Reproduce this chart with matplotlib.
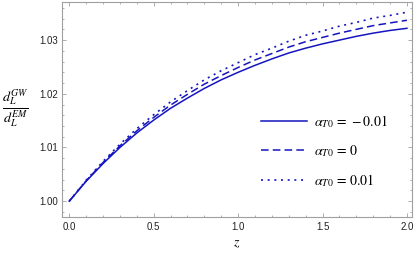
import matplotlib
matplotlib.use('Agg')
import matplotlib.pyplot as plt
import matplotlib.ticker as ticker

plt.rcParams['font.family'] = ['Liberation Sans', 'DejaVu Sans']
plt.rcParams['mathtext.fontset'] = 'stix'

# values
z = [0.0, 0.1, 0.2, 0.3, 0.4, 0.5, 0.6, 0.7, 0.8, 0.9, 1.0,
     1.1, 1.2, 1.3, 1.4, 1.5, 1.6, 1.7, 1.8, 1.9, 2.0]
ratio_m001 = [1.0000, 1.0037, 1.0070, 1.0100, 1.0127, 1.0151, 1.0173, 1.0192, 1.0210, 1.0226, 1.0240,
              1.0253, 1.0265, 1.0276, 1.0285, 1.0293, 1.0300, 1.0307, 1.0313, 1.0318, 1.0322]
ratio_0 = [1.0000, 1.0038, 1.0072, 1.0103, 1.0131, 1.0156, 1.0179, 1.0199, 1.0218, 1.0234, 1.0249,
           1.0263, 1.0275, 1.0287, 1.0297, 1.0305, 1.0313, 1.0320, 1.0327, 1.0332, 1.0337]
ratio_p001 = [1.0000, 1.0039, 1.0074, 1.0106, 1.0135, 1.0161, 1.0185, 1.0206, 1.0226, 1.0243, 1.0258,
              1.0273, 1.0285, 1.0298, 1.0309, 1.0317, 1.0326, 1.0333, 1.0341, 1.0346, 1.0352]
labels = [r'$\alpha_{T0}\,=\,-0.01$', r'$\alpha_{T0}\,=\,0$', r'$\alpha_{T0}\,=\,0.01$']

blue = '#1515c0'
frame = '#a0a0a0'

fig = plt.figure(figsize=(4.15, 2.60), dpi=100)
ax = fig.add_axes([62/415, 43/260, 350/415, 215/260])

ax.plot(z, ratio_m001, color=blue, lw=1.1, linestyle='-', label=labels[0])
ax.plot(z, ratio_0, color=blue, lw=1.1, linestyle=(0, (5, 2.7)), label=labels[1])
ax.plot(z, ratio_p001, color=blue, lw=1.2, linestyle=(0, (1.2, 2.8)), label=labels[2])

ax.set_xlim(-0.043, 2.03)
ax.set_ylim(0.99705, 1.0371)

ax.xaxis.set_major_locator(ticker.MultipleLocator(0.5))
ax.xaxis.set_minor_locator(ticker.MultipleLocator(0.1))
ax.yaxis.set_major_locator(ticker.MultipleLocator(0.01))
ax.yaxis.set_minor_locator(ticker.MultipleLocator(0.002))
ax.xaxis.set_major_formatter(ticker.FormatStrFormatter('%.1f'))
ax.yaxis.set_major_formatter(ticker.FormatStrFormatter('%.2f'))

for s in ax.spines.values():
    s.set_color(frame)
    s.set_linewidth(0.8)
ax.tick_params(which='both', direction='in', top=True, right=True, color=frame, width=0.6,
               labelsize=7, labelcolor='#222222')
ax.tick_params(which='major', length=3)
ax.tick_params(which='minor', length=1.6)
ax.tick_params(axis='x', pad=3.6)
ax.tick_params(axis='y', pad=2.9)

fig.text(15.5/415, 1 - 107.7/260, r'$\frac{d_L^{GW}}{d_L^{EM}}$', fontsize=14.5, ha='center', va='center')
fig.text(237/415, 1 - 243/260, r'$z$', fontsize=10, ha='center', va='center')

ax.legend(loc='center left', bbox_to_anchor=(0.568, 0.307), frameon=False, fontsize=10,
          handlelength=3.3, handletextpad=0.55, labelspacing=0.95, borderpad=0, borderaxespad=0)

fig.savefig('out.png', dpi=100)
